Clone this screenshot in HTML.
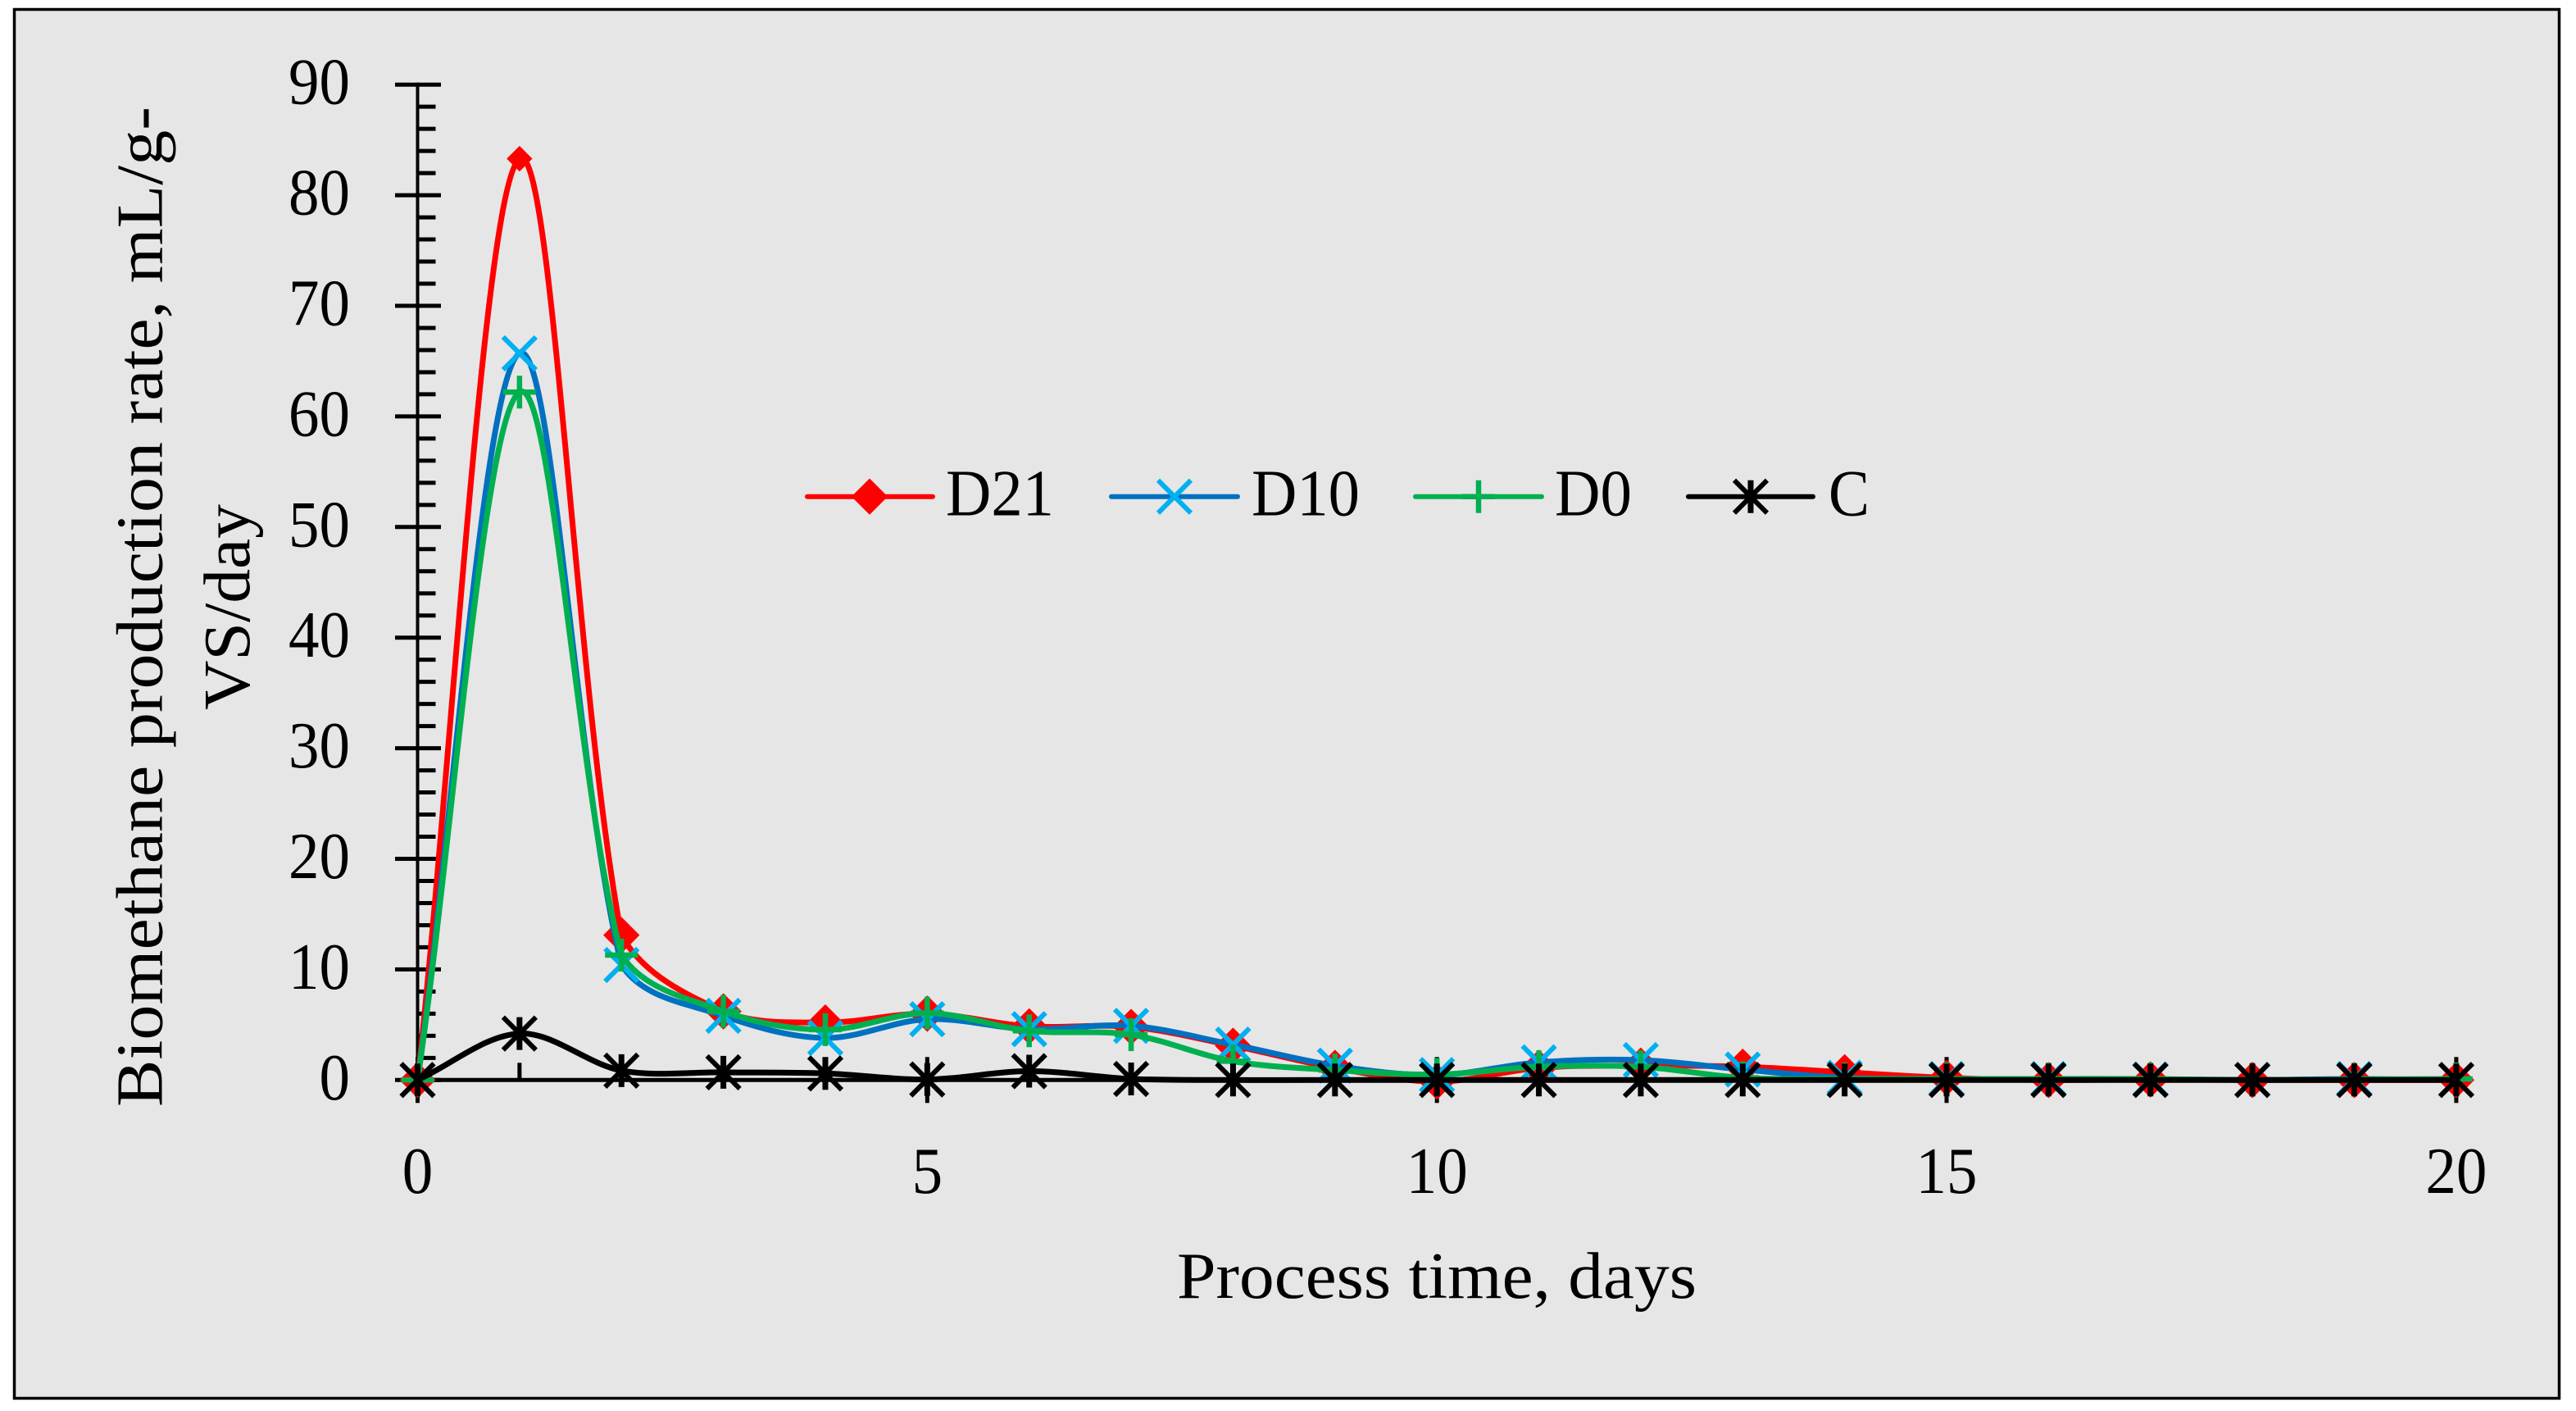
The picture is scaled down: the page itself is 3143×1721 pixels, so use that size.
<!DOCTYPE html>
<html lang="en">
<head>
<meta charset="utf-8">
<title>Biomethane production rate</title>
<style>
html,body{margin:0;padding:0;background:#fff;width:3143px;height:1721px;overflow:hidden}
svg{display:block}
text{font-family:"Liberation Serif",serif;font-size:80px;fill:#000}
</style>
</head>
<body>
<svg id="chart" xmlns="http://www.w3.org/2000/svg" width="3143" height="1721" viewBox="0 0 3143 1721">
  <rect x="17.5" y="11.5" width="3105" height="1694" fill="#E6E6E6" stroke="#000" stroke-width="3.5"/>
  <g id="axes"></g>
  <g id="series"></g>
  <text transform="translate(197.5,1350) rotate(-90)" textLength="1220" lengthAdjust="spacingAndGlyphs">Biomethane production rate, mL/g-</text>
  <text transform="translate(304,866) rotate(-90)" textLength="251" lengthAdjust="spacingAndGlyphs">VS/day</text>
  <text x="1436" y="1583" textLength="634" lengthAdjust="spacingAndGlyphs">Process time, days</text>
  <g id="legend"></g>
</svg>
<script>
const days = [0,1,2,3,4,5,6,7,8,9,10,11,12,13,14,15,16,17,18,19,20];
const d21Values = [0,83.3,13.1,6.2,5.2,6,4.85,4.8,3.1,1.1,-0.15,1.1,1.3,1.2,0.7,0.2,0,0.05,0,0,0];
const d10Values = [0,65.7,10.4,5.8,3.8,5.5,4.6,4.9,3.2,1.3,0.45,1.6,1.8,0.95,0.2,0.1,0.1,0.05,0,0.1,0];
const d0Values = [0,62.2,11.3,6.2,4.55,6.05,4.45,4.1,1.7,0.9,0.5,1.2,1.2,0.2,0.1,0.1,0.1,0.1,0,0.05,0.1];
const cValues = [0,4.2,0.85,0.7,0.6,0.05,0.8,0.1,0,0,0,0,0,0,0,0,0,0,0,0,0];
const yTickLabels = [0,10,20,30,40,50,60,70,80,90];
const xTickLabels = [0,5,10,15,20];
const legendLabels = ['D21','D10','D0','C'];

const NS = 'http://www.w3.org/2000/svg';
const xPos = d => 509.5 + d * 124.37;
const yPos = v => 1317.3 - v * 13.49;

function mk(tag, props, parent) {
  const el = document.createElementNS(NS, tag);
  for (const k in props) el.setAttribute(k, props[k]);
  parent.appendChild(el);
  return el;
}
const axes = document.getElementById('axes');
const seriesLayer = document.getElementById('series');
const legend = document.getElementById('legend');

/* axis lines */
const yAxisLine = mk('line', {x1: xPos(0), x2: xPos(0), y1: yPos(90) - 2.5, y2: yPos(0) + 2.5, stroke: '#000', 'stroke-width': 4}, axes);


const xAxisLine = mk('line', {x1: xPos(0), x2: xPos(20) + 2.5, y1: yPos(0), y2: yPos(0), stroke: '#000', 'stroke-width': 5}, axes);



/* y ticks */
for (let v = 0; v < 90; v += 2) {
  if (v % 10 === 0) continue;
  const t = mk('line', {x1: xPos(0), x2: xPos(0) + 22, y1: yPos(v), y2: yPos(v), stroke: '#000', 'stroke-width': 5}, axes);
  
  
}
yTickLabels.forEach(v => {
  const t = mk('line', {x1: xPos(0) - 27.5, x2: xPos(0) + 28.5, y1: yPos(v), y2: yPos(v), stroke: '#000', 'stroke-width': 5}, axes);
  
  
  const s = String(v);
  const w = s.length * 37.5;
  const l = mk('text', {x: 427 - w, y: yPos(v) + 23.5, textLength: w, lengthAdjust: 'spacingAndGlyphs'}, axes);
  l.textContent = s;
  
  
});

/* x ticks */
for (let d = 0; d <= 20; d++) {
  if (d % 5 === 0) continue;
  const t = mk('line', {x1: xPos(d), x2: xPos(d), y1: yPos(0) - 21, y2: yPos(0), stroke: '#000', 'stroke-width': 5}, axes);
  
  
}
xTickLabels.forEach(d => {
  const t = mk('line', {x1: xPos(d), x2: xPos(d), y1: yPos(0) - 28, y2: yPos(0) + 28, stroke: '#000', 'stroke-width': 5}, axes);
  
  
  const s = String(d);
  const w = s.length * 37.5;
  const l = mk('text', {x: xPos(d) - w / 2, y: 1455, textLength: w, lengthAdjust: 'spacingAndGlyphs'}, axes);
  l.textContent = s;
  
  
});

/* smooth path like a spreadsheet smoothed line: handle length follows the adjacent segment length */
function smoothPath(vals) {
  const p = vals.map((v, i) => [xPos(days[i]), yPos(v)]);
  const n = p.length;
  const dist = (a, b) => Math.hypot(b[0] - a[0], b[1] - a[1]);
  function handles(i) {
    if (i === 0 || i === n - 1) return null;
    const T = [p[i + 1][0] - p[i - 1][0], p[i + 1][1] - p[i - 1][1]];
    const d1 = dist(p[i - 1], p[i]);
    const d2 = dist(p[i], p[i + 1]);
    const kIn = d1 / (d1 + d2) / 3;
    const kOut = d2 / (d1 + d2) / 3;
    const hxIn = (T[0] * kIn + (p[i][0] - p[i - 1][0]) / 3) / 2;
    const hxOut = (T[0] * kOut + (p[i + 1][0] - p[i][0]) / 3) / 2;
    return {
      inH: [p[i][0] - hxIn, p[i][1] - T[1] * kIn],
      outH: [p[i][0] + hxOut, p[i][1] + T[1] * kOut]
    };
  }
  let d = 'M' + p[0][0].toFixed(1) + ' ' + p[0][1].toFixed(1);
  for (let i = 0; i < n - 1; i++) {
    const a = p[i], b = p[i + 1];
    const ha = handles(i), hb = handles(i + 1);
    const c1 = ha ? ha.outH : [a[0] + (b[0] - a[0]) / 3, a[1] + (b[1] - a[1]) / 3];
    const c2 = hb ? hb.inH : [b[0] - (b[0] - a[0]) / 3, b[1] - (b[1] - a[1]) / 3];
    d += 'C' + c1[0].toFixed(1) + ' ' + c1[1].toFixed(1) + ' ' + c2[0].toFixed(1) + ' ' + c2[1].toFixed(1) + ' ' + b[0].toFixed(1) + ' ' + b[1].toFixed(1);
  }
  return d;
}

/* marker shapes */
function drawDiamond(g, x, y, r) {
  const m = mk('polygon', {points: [x, y - r, x + r, y, x, y + r, x - r, y].join(' '), fill: '#FF0000', stroke: '#FF0000', 'stroke-width': 1, 'stroke-linejoin': 'round'}, g);
  
  
}
function drawCross(g, x, y, color, r, sw) {
  const a = mk('path', {d: `M${x - r} ${y - r}L${x + r} ${y + r}M${x - r} ${y + r}L${x + r} ${y - r}`, stroke: color, 'stroke-width': sw, fill: 'none'}, g);
  
  
}
function drawPlus(g, x, y, r) {
  const a = mk('path', {d: `M${x - r} ${y}L${x + r} ${y}M${x} ${y - r}L${x} ${y + r}`, stroke: '#00B050', 'stroke-width': 6.5, fill: 'none'}, g);
  
  
}
function drawStar(g, x, y) {
  drawCross(g, x, y, '#000', 20, 6);
  const a = mk('line', {x1: x, x2: x, y1: y - 20, y2: y + 20, stroke: '#000', 'stroke-width': 7}, g);
  
  
}

/* series */
const lineD21 = mk('path', {d: smoothPath(d21Values), fill: 'none', stroke: '#FF0000', 'stroke-width': 7}, seriesLayer);


const marksD21 = mk('g', {}, seriesLayer);


d21Values.forEach((v, i) => drawDiamond(marksD21, xPos(days[i]), yPos(v), i === 1 ? 15 : 21.5));

const lineD10 = mk('path', {d: smoothPath(d10Values), fill: 'none', stroke: '#0070C0', 'stroke-width': 7}, seriesLayer);


const marksD10 = mk('g', {}, seriesLayer);


d10Values.forEach((v, i) => drawCross(marksD10, xPos(days[i]), yPos(v), '#00B0F0', 20, 6));

const lineD0 = mk('path', {d: smoothPath(d0Values), fill: 'none', stroke: '#00B050', 'stroke-width': 7}, seriesLayer);


const marksD0 = mk('g', {}, seriesLayer);


d0Values.forEach((v, i) => drawPlus(marksD0, xPos(days[i]), yPos(v), 20));

const lineC = mk('path', {d: smoothPath(cValues), fill: 'none', stroke: '#000', 'stroke-width': 7}, seriesLayer);


const marksC = mk('g', {}, seriesLayer);


cValues.forEach((v, i) => drawStar(marksC, xPos(days[i]), yPos(v)));

/* legend */
const legendY = 605.7;
function legendEntry(idx, x1, x2, color, textX, textW) {
  const g = mk('g', {}, legend);
  
  
  const ln = mk('line', {x1: x1, x2: x2, y1: legendY, y2: legendY, stroke: color, 'stroke-width': 6, 'stroke-linecap': 'round'}, g);
  
  
  const t = mk('text', {x: textX, y: 628.7, textLength: textW, lengthAdjust: 'spacingAndGlyphs'}, g);
  t.textContent = legendLabels[idx];
  
  
  return g;
}
drawDiamond(legendEntry(0, 985, 1138, '#FF0000', 1154, 132), 1061, legendY, 21.5);
drawCross(legendEntry(1, 1356, 1510, '#0070C0', 1527, 132), 1433, legendY, '#00B0F0', 20, 6);
drawPlus(legendEntry(2, 1727, 1881, '#00B050', 1897, 94), 1804, legendY, 20);
drawStar(legendEntry(3, 2060, 2212, '#000', 2231, 50), 2136, legendY);
</script>
</body>
</html>
